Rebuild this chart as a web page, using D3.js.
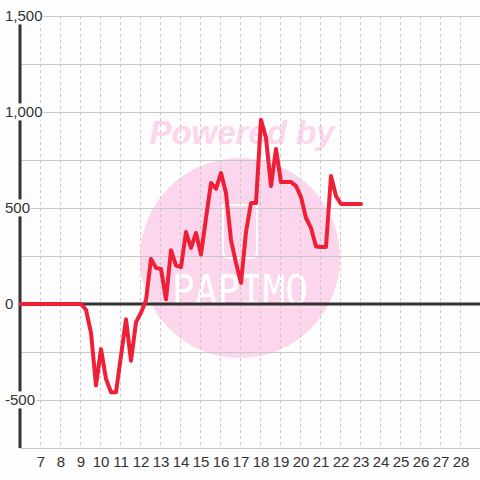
<!DOCTYPE html>
<html lang="en">
  <head>
    <meta charset="UTF-8" />
    <title>Line chart</title>
    <script src="https://d3js.org/d3.v7.min.js"></script>
    <style>
      html, body { margin: 0; padding: 0; background: #fdfdfd; }
      svg { display: block; font-family: "Liberation Sans", Arial, sans-serif; }
    </style>
  </head>
  <body>
    <div id="chart"></div>
    <script>
      // readings every quarter from 6 to 23
      const startX = 6;
      const stepX = 0.25;
      const values = [
        0, 0, 0, 0, 0, 0, 0, 0, 0, 0, 0, 0, 0,
        -30, -150, -425, -235, -390, -460, -460, -270, -80, -295, -95,
        -45, 20, 235, 188, 182, 25, 280, 200,
        193, 375, 292, 370, 258, 448, 630, 600,
        682, 578, 333, 214, 110, 375, 526, 526,
        960, 865, 615, 807, 635, 635, 635, 615,
        557, 448, 396, 300, 297, 297, 667, 562,
        521, 521, 521, 521, 521
      ];
      const xTicks = d3.range(7, 29);
      const yLabelTicks = [1500, 1000, 500, 0, -500];
      const yGridTicks = d3.range(-750, 1501, 250);

      const width = 480, height = 480;
      const data = values.map((v, i) => ({ x: startX + i * stepX, y: v }));

      const x = d3.scaleLinear().domain([6, 29]).range([21, 481]);
      const y = d3.scaleLinear().domain([-750, 1500]).range([448, 16]);

      const svg = d3.select("#chart").append("svg")
        .attr("width", width).attr("height", height);

      svg.append("rect").attr("width", width).attr("height", height).attr("fill", "#fdfdfd");

      // watermark
      const wm = svg.append("g");
      wm.append("circle").attr("cx", 240).attr("cy", 258).attr("r", 100).attr("fill", "#fcd6ec");
      wm.append("text").attr("x", 242).attr("y", 144)
        .attr("text-anchor", "middle")
        .attr("font-size", 33).attr("font-weight", "bold").attr("font-style", "italic")
        .attr("fill", "#fcd6ec").text("Powered by");
      wm.append("path")
        .attr("d", "M223,205 H257 V252 Q257,258 251,258 H229 Q223,258 223,252 Z")
        .attr("fill", "none").attr("stroke", "#fff").attr("stroke-width", 2);
      wm.append("text").attr("x", 240).attr("y", 305)
        .attr("text-anchor", "middle")
        .attr("font-family", "DejaVu Sans Mono, monospace")
        .attr("font-size", 42).attr("fill", "#fff")
        .attr("textLength", 136).attr("lengthAdjust", "spacingAndGlyphs")
        .text("PAPIMO");

      // grid
      svg.append("g").selectAll("line").data(yGridTicks).join("line")
        .attr("x1", 20).attr("x2", width)
        .attr("y1", d => Math.round(y(d)) + 0.5).attr("y2", d => Math.round(y(d)) + 0.5)
        .attr("stroke", "#c8c8c8").attr("stroke-width", 1);
      svg.append("g").selectAll("line").data(xTicks).join("line")
        .attr("x1", d => x(d) - 0.5).attr("x2", d => x(d) - 0.5)
        .attr("y1", y(1500)).attr("y2", y(-750))
        .attr("stroke", "#c8c8c8").attr("stroke-width", 1)
        .attr("stroke-dasharray", "3,3");

      // zero line and y axis
      svg.append("line").attr("x1", 20).attr("x2", width)
        .attr("y1", y(0)).attr("y2", y(0))
        .attr("stroke", "#333").attr("stroke-width", 3);
      svg.append("line").attr("x1", 20).attr("x2", 20)
        .attr("y1", y(1500)).attr("y2", y(-750))
        .attr("stroke", "#333").attr("stroke-width", 3);

      // series
      const line = d3.line().x(d => x(d.x)).y(d => y(d.y));
      svg.append("path").datum(data)
        .attr("d", line)
        .attr("fill", "none")
        .attr("stroke", "#ee1f36")
        .attr("stroke-width", 4)
        .attr("stroke-linejoin", "round")
        .attr("stroke-linecap", "round");

      // y labels with background
      const fmt = d3.format(",");
      const yl = svg.append("g").selectAll("g").data(yLabelTicks).join("g");
      yl.each(function (d) {
        const g = d3.select(this);
        const t = g.append("text")
          .attr("x", 5).attr("y", y(d)).attr("dy", "0.36em")
          .attr("font-size", 15).attr("fill", "#333")
          .text(fmt(d).replace("−", "-"));
        const b = t.node().getBBox();
        g.insert("rect", "text")
          .attr("x", b.x - 1).attr("y", b.y).attr("width", b.width + 2).attr("height", b.height)
          .attr("fill", "#fdfdfd");
      });

      // x labels
      svg.append("g").selectAll("text").data(xTicks).join("text")
        .attr("x", d => x(d)).attr("y", 467)
        .attr("text-anchor", "middle")
        .attr("font-size", 15).attr("fill", "#333")
        .text(d => d);
    </script>
  </body>
</html>
